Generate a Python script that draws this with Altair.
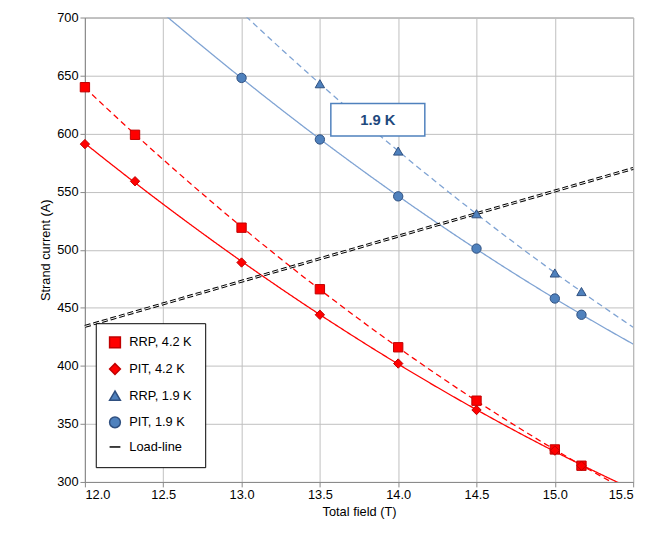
import altair as alt
import pandas as pd

series_names = ["RRP, 4.2 K", "PIT, 4.2 K", "RRP, 1.9 K", "PIT, 1.9 K", "Load-line"]

rrp42_x = [12.0, 12.32, 13.0, 13.5, 14.0, 14.5, 15.0, 15.17]
rrp42_y = [640, 599, 519, 466, 416, 370, 328, 314]
pit42_x = [12.0, 12.32, 13.0, 13.5, 14.0, 14.5, 15.0, 15.17]
pit42_y = [591, 559, 489, 444, 402, 362, 327, 314]
rrp19_x = [13.5, 14.0, 14.5, 15.0, 15.17]
rrp19_y = [643, 585, 531, 480, 464]
pit19_x = [13.0, 13.5, 14.0, 14.5, 15.0, 15.17]
pit19_y = [648, 595, 546, 501, 458, 444]
load_x = [12.0, 15.5]
load_y = [434, 570]

rows = []
for name, xs, ys in [(series_names[0], rrp42_x, rrp42_y), (series_names[1], pit42_x, pit42_y),
                     (series_names[2], rrp19_x, rrp19_y), (series_names[3], pit19_x, pit19_y)]:
    for x, y in zip(xs, ys):
        rows.append({"series": name, "x": x, "y": y})
pts = pd.DataFrame(rows)
load = pd.DataFrame({"series": "Load-line", "x": load_x, "y": load_y})
legend_df = pd.DataFrame({"series": series_names, "x": [None]*5, "y": [None]*5})

xs = alt.Scale(domain=[12, 15.5], nice=False)
ys = alt.Scale(domain=[300, 700], nice=False)
X = alt.X("x:Q", scale=xs, axis=alt.Axis(values=[12, 12.5, 13, 13.5, 14, 14.5, 15, 15.5], format=".1f",
          title="Total field  (T)"))
Y = alt.Y("y:Q", scale=ys, axis=alt.Axis(values=list(range(300, 701, 50)), title="Strand current (A)"))

line_colors = alt.Scale(domain=series_names[:4], range=["#FF0000", "#FF0000", "#7FA3D3", "#7FA3D3"])
dash = alt.Scale(domain=series_names[:4], range=[[6, 4], [1, 0], [6, 4], [1, 0]])

curves = alt.Chart(pts).transform_regression("x", "y", groupby=["series"], method="poly", order=2,
                                             extent=[12, 15.5]).mark_line(clip=True, strokeWidth=1.3).encode(
    x=X, y=Y,
    color=alt.Color("series:N", scale=line_colors, legend=None),
    strokeDash=alt.StrokeDash("series:N", scale=dash, legend=None),
    detail="series:N")

loadline = alt.Chart(load).mark_line(color="black", strokeDash=[6, 3], strokeWidth=3).encode(x=X, y=Y)
loadline2 = alt.Chart(load).mark_line(color="white", strokeDash=[6, 3], strokeWidth=1).encode(x=X, y=Y)

shape_scale = alt.Scale(domain=series_names, range=["square", "diamond", "triangle-up", "circle", "stroke"])
fill_scale = alt.Scale(domain=series_names, range=["#FF0000", "#FF0000", "#4F81BD", "#4F81BD", "black"])
stroke_scale = alt.Scale(domain=series_names, range=["#C00000", "#C00000", "#2F4F7F", "#2F4F7F", "black"])

points = alt.Chart(pd.concat([pts, legend_df.iloc[[4]]])).mark_point(filled=True, size=90, strokeWidth=1, opacity=1).encode(
    x=X, y=Y,
    shape=alt.Shape("series:N", scale=shape_scale, legend=alt.Legend(
        title=None, orient="none", legendX=11, legendY=310, labelFontSize=13, symbolSize=120,
        strokeColor="black", fillColor="white", padding=13, rowPadding=10, labelLimit=200,
        symbolStrokeWidth=1.5, labelOffset=8)),
    fill=alt.Fill("series:N", scale=fill_scale, legend=None),
    stroke=alt.Stroke("series:N", scale=stroke_scale, legend=None))

box = pd.DataFrame({"x": [13.57], "x2": [14.17], "y": [626], "y2": [598],
                    "xm": [13.87], "ym": [612], "t": ["1.9 K"]})
rect = alt.Chart(box).mark_rect(fill="white", stroke="#4F81BD", strokeWidth=1.5).encode(
    x=alt.X("x:Q", scale=xs), x2="x2", y=alt.Y("y:Q", scale=ys), y2="y2")
txt = alt.Chart(box).mark_text(fontWeight="bold", fontSize=15, color="#1F497D").encode(
    x=alt.X("xm:Q", scale=xs), y=alt.Y("ym:Q", scale=ys), text="t:N")

chart = alt.layer(curves, loadline, loadline2, points, rect, txt).properties(
    width=556, height=471, background="white",
    padding={"left": 32, "top": 0, "right": 5, "bottom": 5}).configure_axis(
    gridColor="#BFBFBF", domainColor="#888", tickColor="#888", labelFontSize=13, titleFontSize=13,
    labelColor="black", titleColor="black", titleFontWeight="normal", labelFont="Liberation Sans",
    titleFont="Liberation Sans").configure_view(stroke="#888").configure_legend(labelFont="Liberation Sans")

chart.save("out.html", embed_options={"renderer": "svg", "actions": False})
